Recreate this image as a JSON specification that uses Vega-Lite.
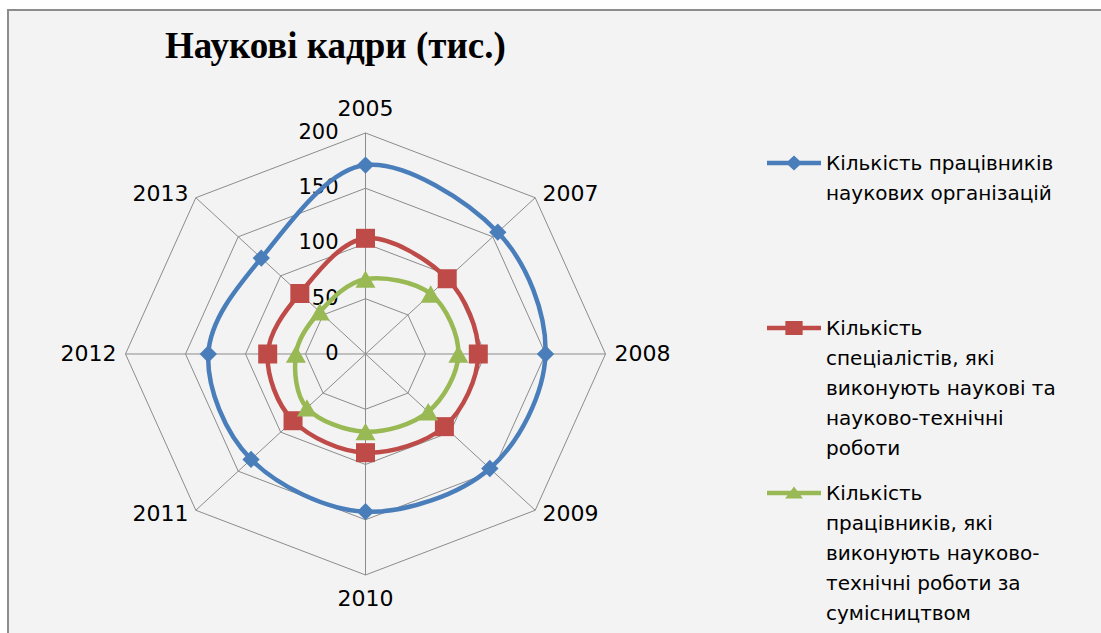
{
  "$schema": "https://vega.github.io/schema/vega-lite/v6.json",
  "width": 1097,
  "height": 627,
  "autosize": {"type": "none"},
  "padding": {"left": 8, "top": 10, "right": -4, "bottom": -4},
  "background": "#ffffff",
  "title": {
    "text": "Наукові кадри (тис.)",
    "font": "Liberation Serif",
    "fontSize": 37,
    "fontWeight": "bold",
    "color": "#000000",
    "anchor": "start",
    "frame": "group",
    "orient": "top",
    "offset": 0,
    "baseline": "alphabetic",
    "dx": 157,
    "dy": 85
  },
  "config": {
    "view": {"stroke": "#8c8c8c", "strokeWidth": 2, "fill": "#f3f3f3"}
  },
  "datasets": {
    "series": [
      {"series": "Кількість працівників наукових організацій", "year": "2005", "value": 171},
      {"series": "Кількість працівників наукових організацій", "year": "2007", "value": 155.9},
      {"series": "Кількість працівників наукових організацій", "year": "2008", "value": 150},
      {"series": "Кількість працівників наукових організацій", "year": "2009", "value": 146.5},
      {"series": "Кількість працівників наукових організацій", "year": "2010", "value": 142.7},
      {"series": "Кількість працівників наукових організацій", "year": "2011", "value": 134.9},
      {"series": "Кількість працівників наукових організацій", "year": "2012", "value": 131},
      {"series": "Кількість працівників наукових організацій", "year": "2013", "value": 122.8},
      {"series": "Кількість спеціалістів, які виконують наукові та науково-технічні роботи", "year": "2005", "value": 104.7},
      {"series": "Кількість спеціалістів, які виконують наукові та науково-технічні роботи", "year": "2007", "value": 96.3},
      {"series": "Кількість спеціалістів, які виконують наукові та науково-технічні роботи", "year": "2008", "value": 94},
      {"series": "Кількість спеціалістів, які виконують наукові та науково-технічні роботи", "year": "2009", "value": 93},
      {"series": "Кількість спеціалістів, які виконують наукові та науково-технічні роботи", "year": "2010", "value": 89.3},
      {"series": "Кількість спеціалістів, які виконують наукові та науково-технічні роботи", "year": "2011", "value": 85.4},
      {"series": "Кількість спеціалістів, які виконують наукові та науково-технічні роботи", "year": "2012", "value": 81.5},
      {"series": "Кількість спеціалістів, які виконують наукові та науково-технічні роботи", "year": "2013", "value": 77.4},
      {"series": "Кількість працівників, які виконують науково-технічні роботи за сумісництвом", "year": "2005", "value": 67.7},
      {"series": "Кількість працівників, які виконують науково-технічні роботи за сумісництвом", "year": "2007", "value": 76.8},
      {"series": "Кількість працівників, які виконують науково-технічні роботи за сумісництвом", "year": "2008", "value": 77.4},
      {"series": "Кількість працівників, які виконують науково-технічні роботи за сумісництвом", "year": "2009", "value": 73.9},
      {"series": "Кількість працівників, які виконують науково-технічні роботи за сумісництвом", "year": "2010", "value": 70.3},
      {"series": "Кількість працівників, які виконують науково-технічні роботи за сумісництвом", "year": "2011", "value": 69},
      {"series": "Кількість працівників, які виконують науково-технічні роботи за сумісництвом", "year": "2012", "value": 58},
      {"series": "Кількість працівників, які виконують науково-технічні роботи за сумісництвом", "year": "2013", "value": 53.9}
    ],
    "grid": [
      {"year": "2005", "ring": 50}, {"year": "2007", "ring": 50}, {"year": "2008", "ring": 50}, {"year": "2009", "ring": 50},
      {"year": "2010", "ring": 50}, {"year": "2011", "ring": 50}, {"year": "2012", "ring": 50}, {"year": "2013", "ring": 50},
      {"year": "2005", "ring": 100}, {"year": "2007", "ring": 100}, {"year": "2008", "ring": 100}, {"year": "2009", "ring": 100},
      {"year": "2010", "ring": 100}, {"year": "2011", "ring": 100}, {"year": "2012", "ring": 100}, {"year": "2013", "ring": 100},
      {"year": "2005", "ring": 150}, {"year": "2007", "ring": 150}, {"year": "2008", "ring": 150}, {"year": "2009", "ring": 150},
      {"year": "2010", "ring": 150}, {"year": "2011", "ring": 150}, {"year": "2012", "ring": 150}, {"year": "2013", "ring": 150},
      {"year": "2005", "ring": 200}, {"year": "2007", "ring": 200}, {"year": "2008", "ring": 200}, {"year": "2009", "ring": 200},
      {"year": "2010", "ring": 200}, {"year": "2011", "ring": 200}, {"year": "2012", "ring": 200}, {"year": "2013", "ring": 200}
    ],
    "ticks": [{"tick": 0}, {"tick": 50}, {"tick": 100}, {"tick": 150}, {"tick": 200}]
  },
  "encoding": {
    "x": {"field": "px", "type": "quantitative", "scale": {"domain": [-297.92, 616.25], "nice": false, "zero": false}, "axis": null},
    "y": {"field": "py", "type": "quantitative", "scale": {"domain": [-256.11, 311.31], "nice": false, "zero": false}, "axis": null}
  },
  "layer": [
    {
      "data": {"name": "grid"},
      "transform": [
        {"calculate": "indexof(['2005','2007','2008','2009','2010','2011','2012','2013'], datum.year)", "as": "idx"},
        {"calculate": "datum.ring * sin(datum.idx * PI / 4)", "as": "px"},
        {"calculate": "datum.ring * cos(datum.idx * PI / 4)", "as": "py"}
      ],
      "mark": {"type": "line", "interpolate": "linear-closed", "stroke": "#8c8c8c", "strokeWidth": 1},
      "encoding": {
        "detail": {"field": "ring", "type": "nominal"},
        "order": {"field": "idx", "type": "quantitative"}
      }
    },
    {
      "data": {"name": "grid"},
      "transform": [
        {"filter": "datum.ring == 200"},
        {"calculate": "indexof(['2005','2007','2008','2009','2010','2011','2012','2013'], datum.year)", "as": "idx"},
        {"calculate": "datum.ring * sin(datum.idx * PI / 4)", "as": "px"},
        {"calculate": "datum.ring * cos(datum.idx * PI / 4)", "as": "py"}
      ],
      "mark": {"type": "rule", "stroke": "#8c8c8c", "strokeWidth": 1},
      "encoding": {
        "x2": {"datum": 0},
        "y2": {"datum": 0}
      }
    },
    {
      "data": {"name": "ticks"},
      "transform": [
        {"calculate": "0", "as": "px"},
        {"calculate": "datum.tick", "as": "py"}
      ],
      "mark": {"type": "text", "align": "right", "baseline": "middle", "dx": -27, "font": "DejaVu Sans", "fontSize": 21, "fill": "#000000"},
      "encoding": {"text": {"field": "tick", "type": "quantitative"}}
    },
    {
      "data": {"name": "series"},
      "transform": [
        {"filter": "datum.series == 'Кількість працівників наукових організацій'"},
        {"calculate": "indexof(['2005','2007','2008','2009','2010','2011','2012','2013'], datum.year)", "as": "idx"},
        {"calculate": "datum.value * sin(datum.idx * PI / 4)", "as": "px"},
        {"calculate": "datum.value * cos(datum.idx * PI / 4)", "as": "py"}
      ],
      "mark": {"type": "line", "interpolate": "cardinal-closed", "strokeWidth": 4.5, "stroke": "#4a7ebb"},
      "encoding": {"order": {"field": "idx", "type": "quantitative"}}
    },
    {
      "data": {"name": "series"},
      "transform": [
        {"filter": "datum.series == 'Кількість спеціалістів, які виконують наукові та науково-технічні роботи'"},
        {"calculate": "indexof(['2005','2007','2008','2009','2010','2011','2012','2013'], datum.year)", "as": "idx"},
        {"calculate": "datum.value * sin(datum.idx * PI / 4)", "as": "px"},
        {"calculate": "datum.value * cos(datum.idx * PI / 4)", "as": "py"}
      ],
      "mark": {"type": "line", "interpolate": "cardinal-closed", "strokeWidth": 4.5, "stroke": "#be4b48"},
      "encoding": {"order": {"field": "idx", "type": "quantitative"}}
    },
    {
      "data": {"name": "series"},
      "transform": [
        {"filter": "datum.series == 'Кількість працівників, які виконують науково-технічні роботи за сумісництвом'"},
        {"calculate": "indexof(['2005','2007','2008','2009','2010','2011','2012','2013'], datum.year)", "as": "idx"},
        {"calculate": "datum.value * sin(datum.idx * PI / 4)", "as": "px"},
        {"calculate": "datum.value * cos(datum.idx * PI / 4)", "as": "py"}
      ],
      "mark": {"type": "line", "interpolate": "cardinal-closed", "strokeWidth": 4.5, "stroke": "#98b954"},
      "encoding": {"order": {"field": "idx", "type": "quantitative"}}
    },
    {
      "data": {"name": "series"},
      "transform": [
        {"filter": "datum.series == 'Кількість працівників наукових організацій'"},
        {"calculate": "indexof(['2005','2007','2008','2009','2010','2011','2012','2013'], datum.year)", "as": "idx"},
        {"calculate": "datum.value * sin(datum.idx * PI / 4)", "as": "px"},
        {"calculate": "datum.value * cos(datum.idx * PI / 4)", "as": "py"}
      ],
      "mark": {"type": "point", "shape": "diamond", "filled": true, "size": 300, "fill": "#4a7ebb", "opacity": 1}
    },
    {
      "data": {"name": "series"},
      "transform": [
        {"filter": "datum.series == 'Кількість спеціалістів, які виконують наукові та науково-технічні роботи'"},
        {"calculate": "indexof(['2005','2007','2008','2009','2010','2011','2012','2013'], datum.year)", "as": "idx"},
        {"calculate": "datum.value * sin(datum.idx * PI / 4)", "as": "px"},
        {"calculate": "datum.value * cos(datum.idx * PI / 4)", "as": "py"}
      ],
      "mark": {"type": "point", "shape": "square", "filled": true, "size": 361, "fill": "#be4b48", "opacity": 1}
    },
    {
      "data": {"name": "series"},
      "transform": [
        {"filter": "datum.series == 'Кількість працівників, які виконують науково-технічні роботи за сумісництвом'"},
        {"calculate": "indexof(['2005','2007','2008','2009','2010','2011','2012','2013'], datum.year)", "as": "idx"},
        {"calculate": "datum.value * sin(datum.idx * PI / 4)", "as": "px"},
        {"calculate": "datum.value * cos(datum.idx * PI / 4)", "as": "py"}
      ],
      "mark": {"type": "point", "shape": "triangle-up", "filled": true, "size": 400, "fill": "#98b954", "opacity": 1}
    },
    {
      "data": {"name": "series"},
      "transform": [
        {"calculate": "0", "as": "px"},
        {"calculate": "0", "as": "py"}
      ],
      "mark": {"type": "point", "filled": true, "size": 10, "opacity": 0},
      "encoding": {
        "color": {
          "field": "series", "type": "nominal",
          "scale": {
            "domain": ["Кількість працівників наукових організацій", "Кількість спеціалістів, які виконують наукові та науково-технічні роботи", "Кількість працівників, які виконують науково-технічні роботи за сумісництвом"],
            "range": ["#4a7ebb", "#be4b48", "#98b954"]
          },
          "legend": {
            "title": null, "orient": "none", "legendX": 759, "legendY": 126, "direction": "vertical",
            "symbolSize": 2916, "symbolStrokeWidth": 0, "symbolOpacity": 1,
            "labelFont": "DejaVu Sans", "labelFontSize": 20, "labelColor": "#000000", "labelLimit": 400,
            "labelBaseline": "alphabetic", "labelOffset": 5, "rowPadding": 7, "padding": 0,
            "labelExpr": "datum.label == 'Кількість працівників наукових організацій' ? ['Кількість працівників', 'наукових організацій', '', '', ''] : datum.label == 'Кількість спеціалістів, які виконують наукові та науково-технічні роботи' ? ['Кількість', 'спеціалістів, які', 'виконують наукові та', 'науково-технічні', 'роботи'] : ['Кількість', 'працівників, які', 'виконують науково-', 'технічні роботи за', 'сумісництвом']",
            "encode": {
              "labels": {"update": {"dy": {"value": 7}, "lineHeight": {"value": 30}}},
              "symbols": {"update": {"size": {"value": 2916}, "opacity": {"value": 1}}}
            }
          }
        },
        "shape": {
          "field": "series", "type": "nominal",
          "scale": {
            "domain": ["Кількість працівників наукових організацій", "Кількість спеціалістів, які виконують наукові та науково-технічні роботи", "Кількість працівників, які виконують науково-технічні роботи за сумісництвом"],
            "range": [
              "M-1,-0.085H1V0.085H-1Z M0,-0.28L0.3,0L0,0.28L-0.3,0Z",
              "M-1,-0.085H1V0.085H-1Z M-0.32,-0.26H0.32V0.26H-0.32Z",
              "M-1,-0.085H1V0.085H-1Z M0,-0.24L0.33,0.2H-0.33Z"
            ]
          },
          "legend": {
            "title": null, "orient": "none", "legendX": 759, "legendY": 126, "direction": "vertical",
            "symbolSize": 2916, "symbolStrokeWidth": 0, "symbolOpacity": 1,
            "labelFont": "DejaVu Sans", "labelFontSize": 20, "labelColor": "#000000", "labelLimit": 400,
            "labelBaseline": "alphabetic", "labelOffset": 5, "rowPadding": 7, "padding": 0,
            "labelExpr": "datum.label == 'Кількість працівників наукових організацій' ? ['Кількість працівників', 'наукових організацій', '', '', ''] : datum.label == 'Кількість спеціалістів, які виконують наукові та науково-технічні роботи' ? ['Кількість', 'спеціалістів, які', 'виконують наукові та', 'науково-технічні', 'роботи'] : ['Кількість', 'працівників, які', 'виконують науково-', 'технічні роботи за', 'сумісництвом']",
            "encode": {
              "labels": {"update": {"dy": {"value": 7}, "lineHeight": {"value": 30}}},
              "symbols": {"update": {"size": {"value": 2916}, "opacity": {"value": 1}}}
            }
          }
        }
      }
    },
    {
      "data": {"name": "grid"},
      "transform": [
        {"filter": "datum.ring == 200"},
        {"calculate": "indexof(['2005','2007','2008','2009','2010','2011','2012','2013'], datum.year)", "as": "idx"},
        {"filter": "datum.idx == 0 || datum.idx == 4"},
        {"calculate": "222 * sin(datum.idx * PI / 4)", "as": "px"},
        {"calculate": "222 * cos(datum.idx * PI / 4)", "as": "py"}
      ],
      "mark": {"type": "text", "align": "center", "baseline": "middle", "font": "DejaVu Sans", "fontSize": 22, "fill": "#000000"},
      "encoding": {"text": {"field": "year", "type": "nominal"}}
    },
    {
      "data": {"name": "grid"},
      "transform": [
        {"filter": "datum.ring == 200"},
        {"calculate": "indexof(['2005','2007','2008','2009','2010','2011','2012','2013'], datum.year)", "as": "idx"},
        {"filter": "datum.idx >= 1 && datum.idx <= 3"},
        {"calculate": "205 * sin(datum.idx * PI / 4)", "as": "px"},
        {"calculate": "205 * cos(datum.idx * PI / 4)", "as": "py"}
      ],
      "mark": {"type": "text", "align": "left", "baseline": "middle", "dx": 3, "font": "DejaVu Sans", "fontSize": 22, "fill": "#000000"},
      "encoding": {"text": {"field": "year", "type": "nominal"}}
    },
    {
      "data": {"name": "grid"},
      "transform": [
        {"filter": "datum.ring == 200"},
        {"calculate": "indexof(['2005','2007','2008','2009','2010','2011','2012','2013'], datum.year)", "as": "idx"},
        {"filter": "datum.idx >= 5"},
        {"calculate": "205 * sin(datum.idx * PI / 4)", "as": "px"},
        {"calculate": "205 * cos(datum.idx * PI / 4)", "as": "py"}
      ],
      "mark": {"type": "text", "align": "right", "baseline": "middle", "dx": -3, "font": "DejaVu Sans", "fontSize": 22, "fill": "#000000"},
      "encoding": {"text": {"field": "year", "type": "nominal"}}
    }
  ]
}
